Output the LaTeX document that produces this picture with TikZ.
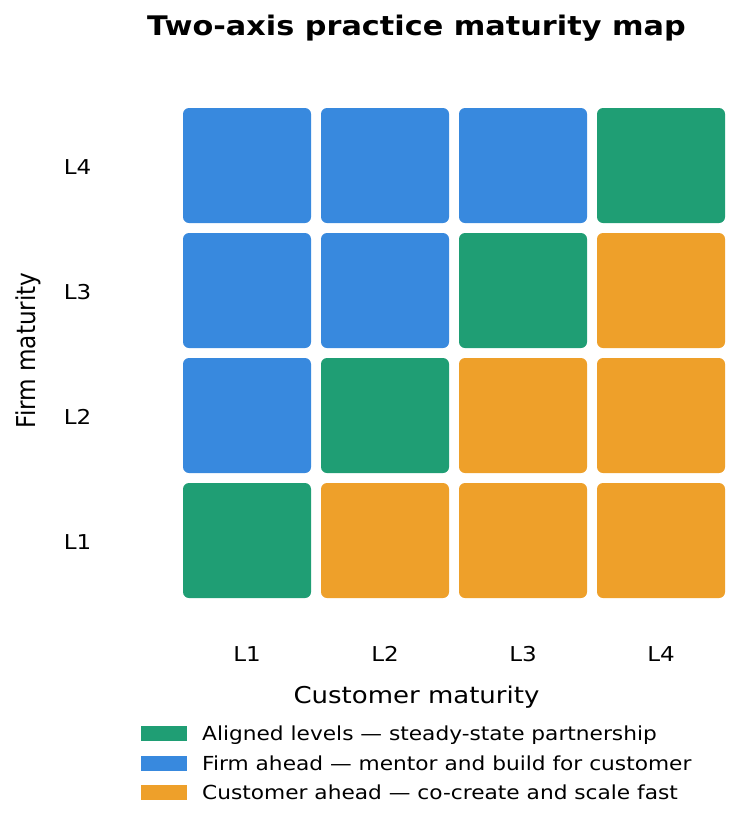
\documentclass[tikz,border=0pt]{standalone}
\usepackage{fontspec}
\setmainfont{DejaVu Sans}
\usepackage{graphicx}
\definecolor{cgreen}{HTML}{1F9E74}
\definecolor{cblue}{HTML}{3889DE}
\definecolor{corange}{HTML}{EEA02A}
\newcommand{\vs}[1]{\scalebox{1}[0.89]{#1}}
\begin{document}
\begin{tikzpicture}[x=1pt,y=-1pt,
  cell/.style={rectangle,rounded corners=6pt,minimum width=128pt,minimum height=115pt,inner sep=0pt,draw=none},
  tick/.style={anchor=base,inner sep=0pt,font=\fontsize{23}{27}\selectfont},
  axlab/.style={anchor=base,inner sep=0pt,font=\fontsize{26}{31}\selectfont},
  titlestyle/.style={anchor=base,inner sep=0pt,font=\fontsize{30.3}{36}\selectfont\bfseries},
  swatch/.style={rectangle,minimum width=46pt,minimum height=15pt,inner sep=0pt,draw=none},
  legtext/.style={anchor=base west,inner sep=0pt,font=\fontsize{21.7}{26}\selectfont}]
\useasboundingbox (0,0) rectangle (750,825);
% title
\node[titlestyle] (title) at (416.5,35) {\vs{Two-axis practice maturity map}};
% cells: row r = firm level, column c = customer level
\foreach \r/\y in {4/165.5,3/290.5,2/415.5,1/540.5}{
  \foreach \c/\x in {1/247,2/385,3/523,4/661}{
    \ifnum\r>\c
      \node[cell,fill=cblue] (c-\r-\c) at (\x,\y) {};
    \else\ifnum\r=\c
      \node[cell,fill=cgreen] (c-\r-\c) at (\x,\y) {};
    \else
      \node[cell,fill=corange] (c-\r-\c) at (\x,\y) {};
    \fi\fi
  }
}
% row tick labels
\node[tick] (r4) at (77.5,174.5) {\vs{L4}};
\node[tick] (r3) at (77.5,299.5) {\vs{L3}};
\node[tick] (r2) at (77.5,424.5) {\vs{L2}};
\node[tick] (r1) at (77.5,549.5) {\vs{L1}};
% column tick labels
\node[tick] (k1) at (247,661.5) {\vs{L1}};
\node[tick] (k2) at (385,661.5) {\vs{L2}};
\node[tick] (k3) at (523,661.5) {\vs{L3}};
\node[tick] (k4) at (661,661.5) {\vs{L4}};
% axis labels
\node[axlab] (xlab) at (416.5,703.3) {\vs{Customer maturity}};
\node[axlab,rotate=90] (ylab) at (35,350.5) {\scalebox{0.89}[1]{Firm maturity}};
% legend
\node[swatch,fill=cgreen] (s1) at (164,733) {};
\node[swatch,fill=cblue] (s2) at (164,763) {};
\node[swatch,fill=corange] (s3) at (164,792) {};
\node[legtext] (t1) at (202,740) {\vs{Aligned levels — steady-state partnership}};
\node[legtext] (t2) at (202,770) {\vs{Firm ahead — mentor and build for customer}};
\node[legtext] (t3) at (202,799) {\vs{Customer ahead — co-create and scale fast}};
\end{tikzpicture}
\end{document}
